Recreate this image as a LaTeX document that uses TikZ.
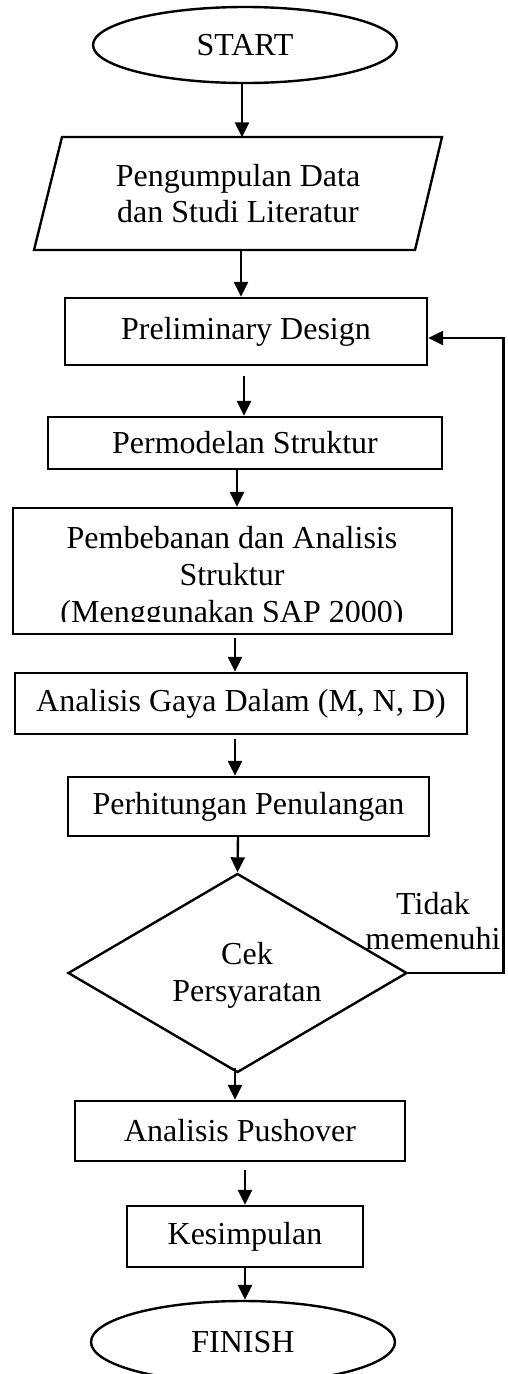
\documentclass[tikz,border=0pt]{standalone}
\usepackage{fontspec}
\setmainfont{Liberation Serif}
\usetikzlibrary{shapes.geometric,arrows.meta}
\begin{document}
\begin{tikzpicture}[x=1pt,y=-1pt,
  every node/.style={font=\fontsize{32}{36}\selectfont},
  ln/.style={line width=2.4pt},
  box/.style={ln,draw,rectangle,inner sep=0pt},
  term/.style={ln,draw,ellipse,inner sep=0pt},
  arr/.style={ln,-{Triangle[width=14pt,length=15pt]}},
  plain/.style={inner sep=0pt,align=center}]
\useasboundingbox (0,0) rectangle (508,1374);
\fill[white] (0,0) rectangle (508,1374);
% nodes
\node[term,minimum width=304pt,minimum height=76pt] (start) at (245,45) {START};
\draw[ln,line join=miter] (62,137) -- (442,137) -- (415,250) -- (34,250) -- cycle;
\node[plain,minimum height=113pt] (par) at (238,194) {Pengumpulan Data\\dan Studi Literatur};
\node[box,minimum width=362pt,minimum height=67pt] (pre) at (246,331.5) {Preliminary Design};
\node[box,minimum width=394pt,minimum height=52pt] (perm) at (245,443) {Permodelan Struktur};
\node[box,minimum width=439pt,minimum height=126pt] (pemb) at (232.5,571) {};
\begin{scope}
\clip (13,508) rectangle (452,621.5);
\node[plain,font=\fontsize{32}{37}\selectfont] (pembt) at (232,578) {Pembebanan dan Analisis\\Struktur\\(Menggunakan SAP 2000)};
\end{scope}
\node[box,minimum width=452pt,minimum height=61pt] (gaya) at (241,703.5) {Analisis Gaya Dalam (M, N, D)};
\node[box,minimum width=361pt,minimum height=59pt] (perh) at (248.5,806.5) {Perhitungan Penulangan};
\node[ln,draw,diamond,aspect=1.7,inner sep=0pt,minimum width=339pt,minimum height=199pt] (cek) at (237.5,973) {};
\node[plain,font=\fontsize{32}{37}\selectfont] (cekt) at (247,975) {Cek\\Persyaratan};
\node[plain,font=\fontsize{32}{35}\selectfont] (tidak) at (433,921) {Tidak\\memenuhi};
\node[box,minimum width=330pt,minimum height=60pt] (push) at (240,1131) {Analisis Pushover};
\node[box,minimum width=236pt,minimum height=61pt] (kes) at (245,1236.5) {Kesimpulan};
\node[term,minimum width=304pt,minimum height=82pt] (fin) at (243,1342) {FINISH};
% connectors
\draw[arr] ([xshift=-3pt]start.south) -- ([xshift=4pt]par.north);
\draw[arr] ([xshift=3pt]par.south) -- ([xshift=-5pt]pre.north);
\draw[arr,shorten <=10pt] ([xshift=-2pt]pre.south) -- ([xshift=-1pt]perm.north);
\draw[arr] ([xshift=-8pt]perm.south) -- ([xshift=4.5pt]pemb.north);
\draw[arr,shorten <=3pt] ([xshift=2.5pt]pemb.south) -- ([xshift=-6pt]gaya.north);
\draw[arr,shorten <=4pt] ([xshift=-6pt]gaya.south) -- ([xshift=-13.5pt]perh.north);
\draw[arr] ([xshift=-10.5pt]perh.south) -- (cek.north);
\draw[arr,shorten <=-6pt] ([xshift=-2.5pt]cek.south) -- ([xshift=-5pt]push.north);
\draw[arr,shorten <=8pt] ([xshift=5pt]push.south) -- (kes.north);
\draw[arr] (kes.south) -- ([xshift=2pt]fin.north);
\coordinate (fbb) at (503.5,973);
\coordinate (fbt) at (503.5,338);
\draw[arr,line join=miter] (cek.east) -- (fbb) -- (fbt) -- (fbt -| pre.east);
\end{tikzpicture}
\end{document}
